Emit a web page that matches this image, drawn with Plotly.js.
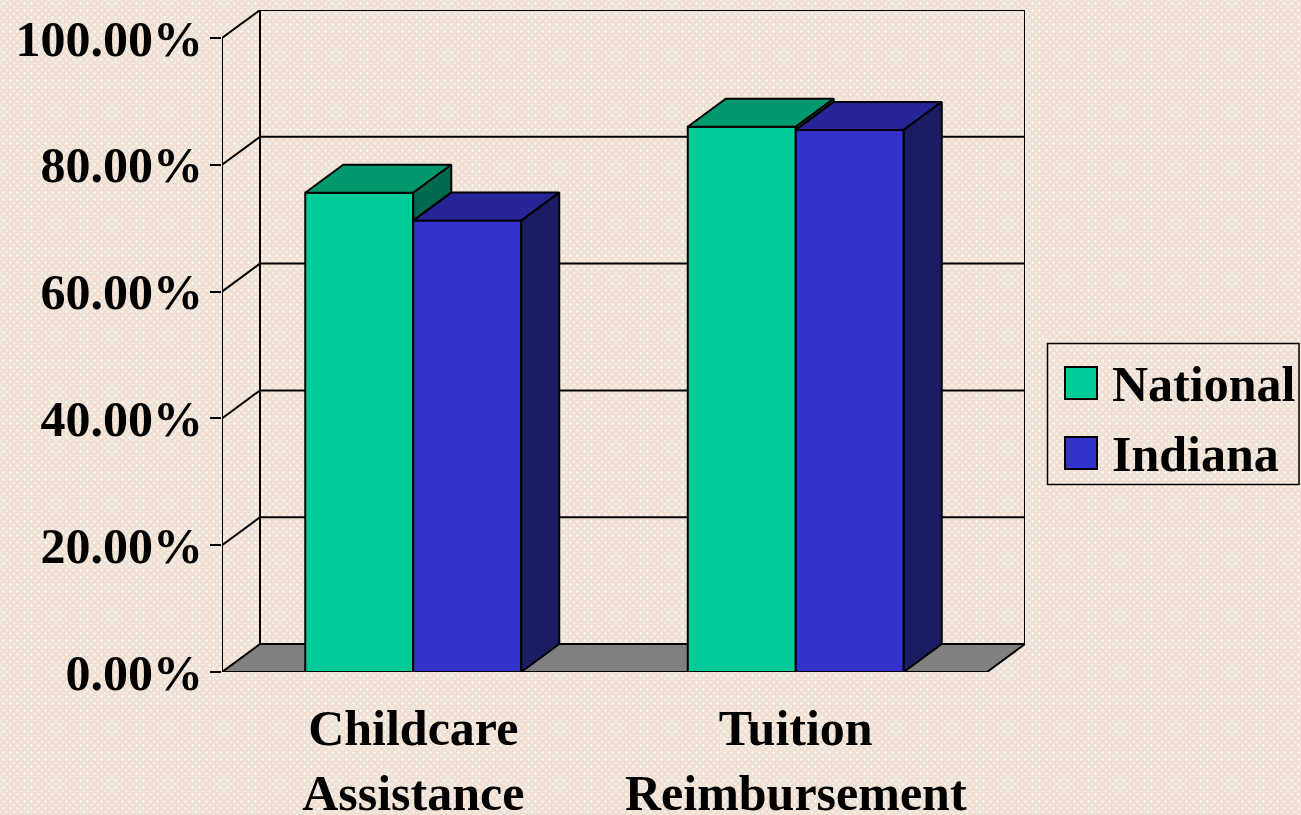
<!DOCTYPE html>
<html>
<head>
<meta charset="utf-8">
<script src="https://cdn.plot.ly/plotly-3.0.1.min.js"></script>
<style>
  html, body { margin: 0; padding: 0; }
  body {
    width: 1301px; height: 815px; overflow: hidden;
    background-color: #EFE0D3;
    background-image:
      radial-gradient(circle, rgba(255,255,255,0.75) 0.9px, rgba(255,255,255,0) 1.6px),
      radial-gradient(circle, rgba(255,255,255,0.55) 0.9px, rgba(255,255,255,0) 1.6px);
    background-size: 7px 7px, 7px 7px;
    background-position: 0 0, 3.5px 3.5px;
  }
  #chart { width: 1301px; height: 815px; }
</style>
</head>
<body>
<div id="chart"></div>
<script>
// ---------- data ----------
const categories = ['Childcare<br>Assistance', 'Tuition<br>Reimbursement'];
const seriesNames = ['National', 'Indiana'];
const national = [75.6, 86.0];
const indiana = [71.2, 85.5];
const yTickVals = [0, 20, 40, 60, 80, 100];
const yTickText = ['0.00%', '20.00%', '40.00%', '60.00%', '80.00%', '100.00%'];

// ---------- style ----------
const FONT = { family: 'Liberation Serif, Times New Roman, serif', size: 50, color: '#000000', weight: 'bold' };
const frontColors = ['#00CC99', '#3333CC'];
const topColors   = ['#00996E', '#262699'];
const sideColors  = ['#006A4E', '#1C1C64'];
const FLOOR_COLOR = '#808080';

const W = 1301, H = 815;
const ML = 222, MT = 10, MB = 143;
const FRONT_W_PX = 765;      // width of front plane (2 categories)
const FRONT_H_PX = 634;      // height of 0..100 on front plane
const DEPTH_PX_X = 38, DEPTH_PX_Y = 28;
const BAR_W_PX = 108;

const nCat = categories.length;
const pxPerX = FRONT_W_PX / nCat;
const pxPerY = FRONT_H_PX / 100;
const DX = DEPTH_PX_X / pxPerX;
const DY = DEPTH_PX_Y / pxPerY;
const BW = BAR_W_PX / pxPerX;
const xMax = nCat + DX;
const yMax = 100 + DY;
const plotW = xMax * pxPerX;
const plotH = yMax * pxPerY;
const MR = W - ML - plotW;
const centers = categories.map((_, i) => i + 0.5);

const series = [national, indiana];
const offsets = [-BW, 0];

const traces = [];
// front faces as real bars
series.forEach((vals, s) => {
  traces.push({
    type: 'bar', name: seriesNames[s], x: centers, y: vals,
    width: BW, offset: offsets[s],
    marker: { color: frontColors[s], line: { color: '#000', width: 2 } },
    showlegend: false, hoverinfo: 'name+y'
  });
});
// top & side faces
series.forEach((vals, s) => {
  vals.forEach((v, i) => {
    const x0 = centers[i] + offsets[s], x1 = x0 + BW;
    traces.push({
      type: 'scatter', mode: 'lines', fill: 'toself', fillcolor: topColors[s],
      x: [x0, x1, x1 + DX, x0 + DX, x0], y: [v, v, v + DY, v + DY, v],
      line: { color: '#000', width: 2 }, showlegend: false, hoverinfo: 'skip'
    });
    let low = 0;
    if (s < series.length - 1) low = Math.min(series[s + 1][i], v);
    traces.push({
      type: 'scatter', mode: 'lines', fill: 'toself', fillcolor: sideColors[s],
      x: [x1, x1 + DX, x1 + DX, x1, x1], y: [low, low + DY, v + DY, v, low],
      line: { color: '#000', width: 2 }, showlegend: false, hoverinfo: 'skip'
    });
  });
});

// ---------- frame (floor, walls, gridlines) ----------
const shapes = [];
const lineStyle = { color: '#000', width: 2 };
shapes.push({
  type: 'path', xref: 'x', yref: 'y', layer: 'below',
  path: `M0,0 L${nCat},0 L${nCat + DX},${DY} L${DX},${DY} Z`,
  fillcolor: FLOOR_COLOR, line: lineStyle
});
yTickVals.filter(v => v > 0).forEach(v => {
  shapes.push({
    type: 'path', xref: 'x', yref: 'y', layer: 'below',
    path: `M0,${v} L${DX},${v + DY} L${nCat + DX},${v + DY}`, line: lineStyle
  });
});
shapes.push({ type: 'line', xref: 'x', yref: 'y', layer: 'below', x0: DX, x1: DX, y0: DY, y1: 100 + DY, line: lineStyle });
shapes.push({ type: 'line', xref: 'x', yref: 'y', layer: 'below', x0: nCat + DX, x1: nCat + DX, y0: DY, y1: 100 + DY, line: lineStyle });
shapes.push({ type: 'line', xref: 'x', yref: 'y', layer: 'below', x0: 0, x1: 0, y0: 0, y1: 100, line: lineStyle });
// category boundary ticks on x axis
for (let k = 0; k <= nCat; k++) {
  shapes.push({ type: 'line', xref: 'x', yref: 'y', ysizemode: 'pixel', yanchor: 0,
    x0: k, x1: k, y0: 0, y1: -12, line: lineStyle });
}

// ---------- manual legend ----------
const px2x = px => (px - ML) / plotW;
const py2y = py => (H - MB - py) / plotH;
const annotations = [];
shapes.push({ type: 'rect', xref: 'paper', yref: 'paper',
  x0: px2x(1047.5), x1: px2x(1299), y0: py2y(343.5), y1: py2y(484.5),
  line: { color: '#000', width: 1.5 }, fillcolor: 'rgba(0,0,0,0)' });
seriesNames.forEach((name, s) => {
  const cy = 383 + s * 70;
  shapes.push({ type: 'rect', xref: 'paper', yref: 'paper',
    x0: px2x(1065), x1: px2x(1097), y0: py2y(cy - 16), y1: py2y(cy + 16),
    line: { color: '#000', width: 2 }, fillcolor: frontColors[s] });
  annotations.push({ xref: 'paper', yref: 'paper', x: px2x(1110), y: py2y(cy + 1),
    xanchor: 'left', yanchor: 'middle', showarrow: false, text: name, font: FONT });
});

const layout = {
  width: W, height: H,
  margin: { l: ML, r: MR, t: MT, b: MB, pad: 0 },
  paper_bgcolor: 'rgba(0,0,0,0)', plot_bgcolor: 'rgba(0,0,0,0)',
  barmode: 'overlay', showlegend: false,
  font: FONT,
  xaxis: {
    range: [0, xMax], tickmode: 'array', tickvals: centers, ticktext: categories,
    ticks: '', showgrid: false, zeroline: false, showline: false,
    tickfont: FONT, ticklabelstandoff: 22, fixedrange: true
  },
  yaxis: {
    range: [0, yMax], tickmode: 'array', tickvals: yTickVals, ticktext: yTickText,
    ticks: 'outside', ticklen: 11, tickwidth: 2, tickcolor: '#000',
    showgrid: false, zeroline: false, showline: false,
    tickfont: FONT, ticklabelstandoff: -3, fixedrange: true
  },
  shapes: shapes,
  annotations: annotations
};

Plotly.newPlot('chart', traces, layout, { displayModeBar: false, staticPlot: true });
</script>
</body>
</html>
